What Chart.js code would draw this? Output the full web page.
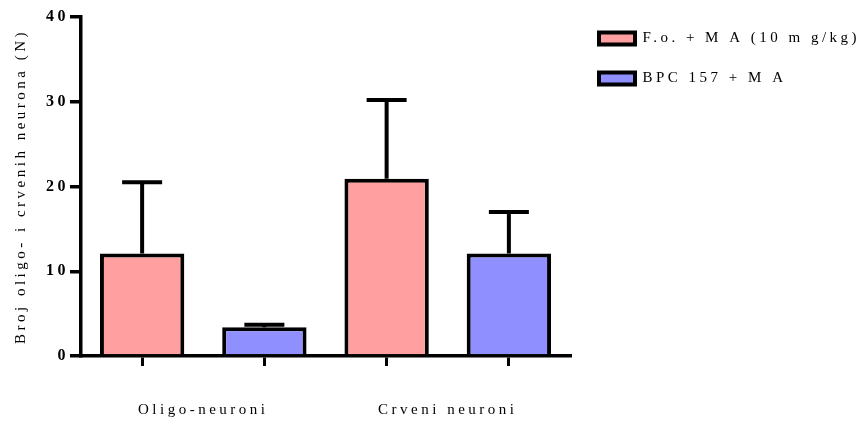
<!DOCTYPE html>
<html>
<head>
<meta charset="utf-8">
<script src="https://cdn.jsdelivr.net/npm/chart.js@4/dist/chart.umd.min.js"></script>
<style>
    html, body { margin: 0; padding: 0; background: #fff; }
    #wrap { width: 864px; height: 428px; position: relative; }
</style>
</head>
<body>
<div id="wrap"><canvas id="chart"></canvas></div>
<script>
const GROUPS      = ['Oligo-neuroni', 'Crveni neuroni'];
const SLOTS       = ['Oligo F.o.', 'Oligo BPC', 'Crveni F.o.', 'Crveni BPC'];
const SERIES      = ['F.o. + M A (10 m g/kg)', 'BPC 157 + M A'];
const FO_MEANS    = [12.1, null, 20.9, null];
const FO_ERRORS   = [8.4, null, 9.3, null];
const BPC_MEANS   = [null, 3.4, null, 12.1];
const BPC_ERRORS  = [null, 0.3, null, 4.9];
const Y_TICKS     = [0, 10, 20, 30, 40];

const PINK  = '#ff9f9f';
const BLUE  = '#8f8fff';
const SERIF = "'Liberation Serif', 'Times New Roman', serif";

// Prism export spreads its letters out, so widen every string drawn on the canvas
const spacing = {
    id: 'spacing',
    beforeLayout(chart) { chart.ctx.letterSpacing = '3.5px'; },
    beforeDraw(chart)   { chart.ctx.letterSpacing = '3.5px'; },
    // the legend gets at most a quarter of the width and clips to its box,
    // so let it run to the canvas edge once the chart area is settled
    afterLayout(chart) {
        const lg = chart.legend;
        lg.left = chart.chartArea.right + 4;
        lg.right = chart.width;
        lg.width = lg.right - lg.left;
    },
};

// upper-only error bars with a flat cap
const errorBars = {
    id: 'errorBars',
    afterDatasetsDraw(chart) {
        const ctx = chart.ctx;
        const yScale = chart.scales.y;
        chart.data.datasets.forEach((ds, di) => {
            const meta = chart.getDatasetMeta(di);
            ds.errors.forEach((err, i) => {
                if (err == null || ds.data[i] == null) return;
                const bar = meta.data[i];
                const top = yScale.getPixelForValue(ds.data[i] + err);
                ctx.save();
                ctx.strokeStyle = '#000';
                ctx.lineWidth = 4;
                ctx.beginPath();
                ctx.moveTo(bar.x, bar.y);
                ctx.lineTo(bar.x, top);
                ctx.moveTo(bar.x - 20, top);
                ctx.lineTo(bar.x + 20, top);
                ctx.stroke();
                ctx.restore();
            });
        });
    },
};

function mkDataset(label, values, errors, color) {
    return {
        label,
        data: values,
        errors,
        backgroundColor: color,
        borderColor: '#000',
        borderWidth: 4,
        borderSkipped: 'start',
        barPercentage: 0.69,
        categoryPercentage: 1,
        skipNull: true,
    };
}

new Chart(document.getElementById('chart'), {
    type: 'bar',
    data: {
        labels: SLOTS,
        datasets: [
            mkDataset(SERIES[0], FO_MEANS,  FO_ERRORS,  PINK),
            mkDataset(SERIES[1], BPC_MEANS, BPC_ERRORS, BLUE),
        ],
    },
    options: {
        responsive: true,
        maintainAspectRatio: false,
        animation: false,
        layout: { padding: { top: 6, right: 108, bottom: 4, left: 12 } },
        plugins: {
            tooltip: { enabled: false },
            legend: {
                position: 'right',
                align: 'start',
                labels: {
                    color: '#000',
                    boxWidth: 36,
                    boxHeight: 12,
                    padding: 25,
                    font: { family: SERIF, size: 15 },
                },
            },
        },
        scales: {
            x: {
                offset: true,
                grid: {
                    offset: false,
                    drawOnChartArea: false,
                    tickLength: 10,
                    lineWidth: 3,
                    color: '#000',
                },
                border: { display: true, width: 3.5, color: '#000' },
                ticks: { display: false },
            },
            x2: {
                type: 'category',
                labels: GROUPS,
                position: 'bottom',
                offset: true,
                grid: {
                    drawOnChartArea: false,
                    tickLength: 30,
                    color: 'rgba(0,0,0,0)',
                },
                border: { display: false },
                ticks: {
                    color: '#000',
                    padding: 5,
                    maxRotation: 0,
                    autoSkip: false,
                    font: { family: SERIF, size: 15 },
                },
            },
            y: {
                min: 0,
                max: 40,
                afterBuildTicks: axis => { axis.ticks = Y_TICKS.map(v => ({ value: v })); },
                grid: {
                    drawOnChartArea: false,
                    tickLength: 11,
                    lineWidth: 3.5,
                    color: '#000',
                },
                border: { display: true, width: 3.5, color: '#000' },
                ticks: {
                    color: '#000',
                    padding: 1,
                    font: { family: SERIF, size: 16, weight: 'bold', lineHeight: 2.0 },
                },
                title: {
                    display: true,
                    text: 'Broj oligo- i crvenih neurona (N)',
                    color: '#000',
                    padding: { top: 0, bottom: 15 },
                    font: { family: SERIF, size: 15 },
                },
            },
        },
    },
    plugins: [spacing, errorBars],
});
</script>
</body>
</html>
